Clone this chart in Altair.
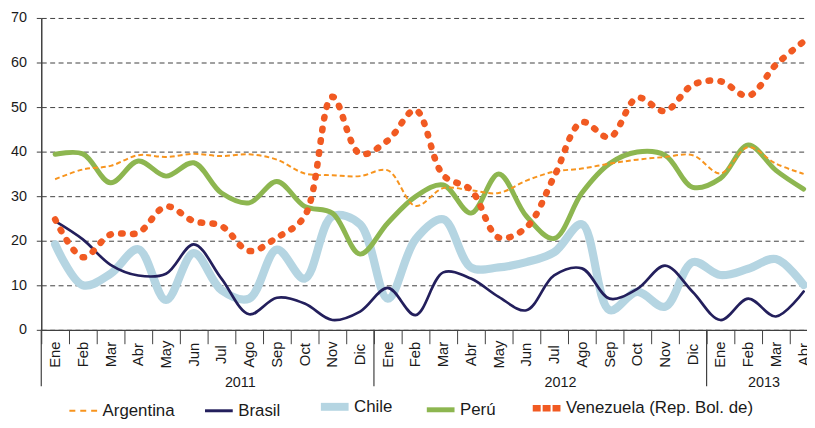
import altair as alt
import pandas as pd

# ---------------- data ----------------
months = ["Ene", "Feb", "Mar", "Abr", "May", "Jun", "Jul", "Ago", "Sep", "Oct", "Nov", "Dic"] * 2 + ["Ene", "Feb", "Mar", "Abr"]
years = ["2011", "2012", "2013"]
year_start = [0, 12, 24]              # month index where each year begins
year_label_at = [7.18, 18.73, 26.07]  # where the year label sits (month units)

series_names = ["Argentina", "Brasil", "Chile", "Perú", "Venezuela (Rep. Bol. de)"]

argentina = [33.8, 36.0, 36.8, 39.2, 38.8, 39.5, 39.0, 39.4, 38.2, 35.1, 34.7, 34.5,
             35.8, 27.8, 31.8, 31.3, 30.7, 33.5, 35.5, 36.2, 37.3, 38.2, 38.8, 39.2,
             35.1, 41.0, 37.3, 35.0]
brasil = [24.4, 20.3, 14.6, 12.2, 12.6, 19.2, 11.5, 3.5, 7.2, 5.9, 2.2, 4.1,
          9.4, 3.3, 12.9, 11.5, 7.4, 4.4, 12.2, 13.8, 7.0, 9.2, 14.4, 8.5,
          2.2, 7.0, 3.0, 8.6]
chile = [19.2, 10.0, 12.6, 18.1, 6.7, 17.2, 8.9, 7.0, 18.0, 11.5, 25.5, 23.7,
         7.0, 20.3, 24.8, 14.0, 14.0, 15.2, 17.4, 23.7, 4.4, 8.5, 5.2, 15.2,
         12.3, 13.7, 15.9, 10.1]
peru = [39.4, 39.5, 33.0, 37.9, 34.5, 37.5, 30.7, 28.5, 33.3, 27.7, 26.2, 17.0,
        24.0, 29.9, 32.5, 26.2, 35.0, 25.5, 20.5, 30.7, 37.3, 39.9, 39.2, 32.0,
        34.0, 41.5, 35.8, 31.6]
venezuela = [24.8, 16.3, 21.4, 21.8, 27.7, 24.4, 23.3, 17.7, 20.7, 25.5, 52.3, 39.5,
             42.5, 49.3, 34.7, 31.4, 20.7, 23.0, 34.4, 46.6, 43.2, 52.1, 49.1, 55.0,
             55.8, 52.5, 59.5, 64.7]

values = [argentina, brasil, chile, peru, venezuela]

# ---------------- styles ----------------
colors = ["#F7941E", "#231F5C", "#B5D5E2", "#8DB650", "#F15A22"]
line_style = {
    "Argentina": dict(w=2.0, dash=[5, 3], cap="butt"),
    "Brasil": dict(w=2.7, dash=None, cap="round"),
    "Chile": dict(w=8.3, dash=None, cap="round"),
    "Perú": dict(w=5.0, dash=None, cap="round"),
    "Venezuela (Rep. Bol. de)": dict(w=6.6, dash=[1.5, 10.5], cap="round"),
}
legend_w = {"Argentina": 2, "Brasil": 3, "Chile": 8, "Perú": 5, "Venezuela (Rep. Bol. de)": 6.5}
draw_order = ["Chile", "Perú", "Brasil", "Argentina", "Venezuela (Rep. Bol. de)"]

FONT = "Liberation Sans"
W = 773.4
H = 315
BAND = 28

rows = []
for name, vals in zip(series_names, values):
    for i, v in enumerate(vals):
        rows.append({"pais": name, "t": i + 0.5, "valor": v})
df = pd.DataFrame(rows)

mdf = pd.DataFrame({"t": [i + 0.5 for i in range(len(months))], "mes": months})
ydf = pd.DataFrame({"anio": years, "inicio": year_start, "centro": year_label_at})

xscale = alt.Scale(domain=[0, W / BAND], nice=False, zero=False)
yscale = alt.Scale(domain=[0, 70], nice=False, zero=True)

x_axis = alt.Axis(values=list(range(28)), labels=False, tickSize=14, tickColor="#404040",
                  domainColor="#404040", domainWidth=1.2, grid=False, title=None)
y_axis = alt.Axis(values=list(range(0, 71, 10)), tickSize=5, tickColor="#404040",
                  labelPadding=10, labelFontSize=14.5, labelFont=FONT, labelColor="#1a1a1a",
                  domainColor="#404040", domainWidth=1.5, grid=True, gridDash=[5, 3.5],
                  gridColor="#404040", gridWidth=1, title=None)

sw_expr = " : ".join(f"datum.value == '{n}' ? {legend_w[n]}" for n in series_names[:-1]) + f" : {legend_w[series_names[-1]]}"
dash_expr = "datum.value == 'Argentina' ? [6, 5] : datum.value == 'Venezuela (Rep. Bol. de)' ? [8, 2] : []"

legend = alt.Legend(title=None, orient="none", legendX=28.4, legendY=384, direction="horizontal",
                    symbolType="stroke", symbolSize=784, symbolOffset=5.5,
                    labelFontSize=17, labelFont=FONT, labelLimit=400,
                    labelColor="#1a1a1a", labelOffset=11, columnPadding=24, padding=0,
                    symbolStrokeWidth=alt.ExprRef(expr=sw_expr),
                    symbolDash=alt.ExprRef(expr=dash_expr))

color_scale = alt.Scale(domain=series_names, range=colors)


def series_layer(name):
    st = line_style[name]
    enc = dict(
        x=alt.X("t:Q", scale=xscale, axis=x_axis),
        y=alt.Y("valor:Q", scale=yscale, axis=y_axis),
        color=alt.Color("pais:N", scale=color_scale, legend=legend),
        strokeWidth=alt.value(st["w"]),
    )
    if st["dash"]:
        enc["strokeDash"] = alt.value(st["dash"])
    return (alt.Chart(df)
            .transform_filter(alt.datum.pais == name)
            .mark_line(interpolate="catmull-rom", strokeCap=st["cap"], strokeJoin="round")
            .encode(**enc))


lines = [series_layer(n) for n in draw_order]

month_text = alt.Chart(mdf).mark_text(angle=270, fontSize=15, font=FONT, align="center",
                                       baseline="middle", color="#1a1a1a").encode(
    x=alt.X("t:Q", scale=xscale, axis=x_axis),
    y=alt.value(340),
    text="mes:N",
)

year_rules = alt.Chart(ydf).mark_rule(color="#404040", strokeWidth=1.2).encode(
    x=alt.X("inicio:Q", scale=xscale, axis=x_axis),
    y=alt.value(H),
    y2=alt.value(H + 57),
)

year_text = alt.Chart(ydf).mark_text(fontSize=14.5, font=FONT, baseline="middle",
                                      align="center", color="#1a1a1a").encode(
    x=alt.X("centro:Q", scale=xscale, axis=x_axis),
    y=alt.value(H + 54),
    text="anio:N",
)

chart = (alt.layer(*lines, month_text, year_rules, year_text)
         .properties(width=W, height=H,
                     autosize=alt.AutoSizeParams(type="none"),
                     padding={"left": 33.6, "top": 8, "right": 0, "bottom": 89})
         .configure(font=FONT)
         .configure_view(stroke=None))

chart.save("out.html", embed_options={"renderer": "svg", "actions": False})
